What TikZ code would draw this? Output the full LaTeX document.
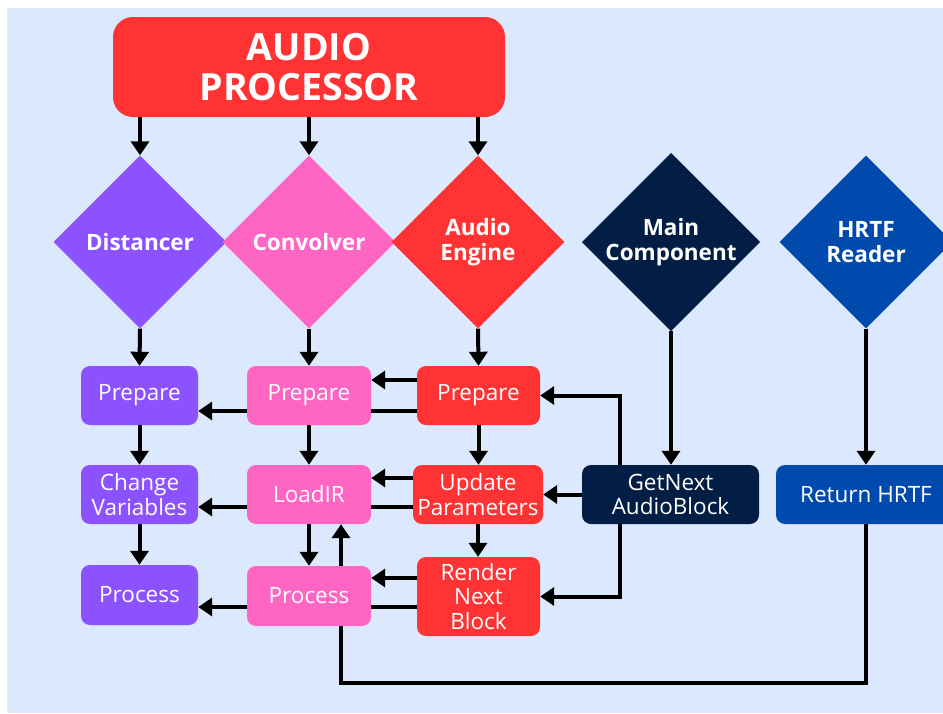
\documentclass[tikz,border=0pt]{standalone}
\usepackage{fontspec}
\setmainfont{Open Sans}
\usetikzlibrary{shapes.geometric,arrows.meta}

\definecolor{pagebg}{HTML}{DBE8FD}
\definecolor{cpurple}{HTML}{8C52FF}
\definecolor{cpink}{HTML}{FF66C4}
\definecolor{cred}{HTML}{FF3333}
\definecolor{cnavy}{HTML}{021E45}
\definecolor{ccobalt}{HTML}{004AAD}

\pgfdeclarelayer{back}
\pgfdeclarelayer{wires}
\pgfsetlayers{back,wires,main}

\tikzset{
  diam/.style={diamond, aspect=1, inner sep=0pt, minimum width=173pt,
    minimum height=173pt, text=white, align=center,
    font=\bfseries\fontsize{22.5}{24.5}\selectfont},
  stepbox/.style={rectangle, rounded corners=9pt, inner sep=0pt,
    text=white, align=center, font=\fontsize{22.5}{24.5}\selectfont},
  arr/.style={line width=4pt, -{Triangle[width=18pt,length=14pt]}},
  wire/.style={line width=4pt}
}

\begin{document}
\begin{tikzpicture}[x=1pt,y=-1pt]
\clip (0,0) rectangle (943,713);
\begin{pgfonlayer}{back}
  \fill[white] (0,0) rectangle (943,713);
  \fill[pagebg] (7,8) rectangle (943,713);
\end{pgfonlayer}

% header
\node[rectangle, rounded corners=20pt, fill=cred, minimum width=392pt,
  minimum height=100pt, inner sep=0pt, text=white, align=center,
  font=\bfseries\fontsize{37.5}{39.5}\selectfont] (title) at (309,67) {AUDIO\\PROCESSOR};

% components
\node[diam, fill=cpurple] (dist) at (140,242) {Distancer};
\node[diam, fill=cpink]   (conv) at (309,242) {Convolver};
\node[diam, fill=cred]    (eng)  at (478,242) {Audio\\Engine};
\node[diam, fill=cnavy]   (mainc) at (671,242) {Main\\Component};
\node[diam, fill=ccobalt] (hrtf) at (866,242) {HRTF\\Reader};

% Distancer steps
\node[stepbox, fill=cpurple, minimum width=117pt, minimum height=59pt] (dprep) at (139.5,395.5) {Prepare};
\node[stepbox, fill=cpurple, minimum width=117pt, minimum height=59pt] (dvar)  at (139.5,494.5) {Change\\Variables};
\node[stepbox, fill=cpurple, minimum width=117pt, minimum height=60pt] (dproc) at (139.5,595) {Process};

% Convolver steps
\node[stepbox, fill=cpink, minimum width=124pt, minimum height=59pt] (cprep) at (309,395.5) {Prepare};
\node[stepbox, fill=cpink, minimum width=124pt, minimum height=59pt] (cload) at (309,494.5) {LoadIR};
\node[stepbox, fill=cpink, minimum width=124pt, minimum height=60pt] (cproc) at (309,596) {Process};

% Audio Engine steps
\node[stepbox, fill=cred, minimum width=123pt, minimum height=59pt] (eprep) at (478.5,395.5) {Prepare};
\node[stepbox, fill=cred, minimum width=130pt, minimum height=59pt] (eupd)  at (478,494.5) {Update\\Parameters};
\node[stepbox, fill=cred, minimum width=123pt, minimum height=79pt] (erend) at (478.5,596.5) {Render\\Next\\Block};

% other steps
\node[stepbox, fill=cnavy, minimum width=177pt, minimum height=59pt] (getnext) at (670.5,494.5) {GetNext\\AudioBlock};
\node[stepbox, fill=ccobalt, minimum width=180pt, minimum height=59pt] (ret) at (866,494.5) {Return HRTF};

\begin{pgfonlayer}{wires}
  % header to components
  \draw[arr] (title.south -| dist.north) -- (dist.north);
  \draw[arr] (title.south -| conv.north) -- (conv.north);
  \draw[arr] (title.south -| eng.north) -- (eng.north);

  % components to first steps
  \draw[arr] (dist.south) -- (dprep.north);
  \draw[arr] (conv.south) -- (cprep.north);
  \draw[arr] (eng.south) -- (eprep.north);
  \draw[arr] (mainc.south) -- (mainc.south |- getnext.north);
  \draw[arr] (hrtf.south) -- (ret.north);

  % step sequences
  \draw[arr] (dprep) -- (dvar);
  \draw[arr] (dvar) -- (dproc);
  \draw[arr] (cprep) -- (cload);
  \draw[arr] (cload) -- (cproc);
  \draw[arr] (eprep.south) -- (eprep.south |- eupd.north);
  \draw[arr] (eupd.south) -- (eupd.south |- erend.north);

  % engine fan-out to convolver and distancer
  \draw[arr] ([yshift=15.5pt]eprep.west) -- ([yshift=15.5pt]eprep.west -| cprep.east);
  \draw[arr] ([yshift=-15.5pt]eprep.west) -- ([yshift=-15.5pt]eprep.west -| dprep.east);
  \draw[arr] ([yshift=16.5pt]eupd.west) -- ([yshift=16.5pt]eupd.west -| cload.east);
  \draw[arr] ([yshift=-12.5pt]eupd.west) -- ([yshift=-12.5pt]eupd.west -| dvar.east);
  \draw[arr] ([yshift=18.5pt]erend.west) -- ([yshift=18.5pt]erend.west -| cproc.east);
  \draw[arr] ([yshift=-10.5pt]erend.west) -- ([yshift=-10.5pt]erend.west -| dproc.east);

  % main component block calls
  \draw[arr] (getnext.west) -- (getnext.west -| eupd.east);
  \draw[arr] ([xshift=-50.5pt]getnext.north) |- (eprep.east);
  \draw[arr] ([xshift=-50.5pt]getnext.south) |- (erend.east);

  % HRTF back to LoadIR
  \coordinate (hbend) at (866,683);
  \draw[arr] (ret.south) -- (hbend) -| ([xshift=32pt]cload.south);
\end{pgfonlayer}
\end{tikzpicture}
\end{document}
